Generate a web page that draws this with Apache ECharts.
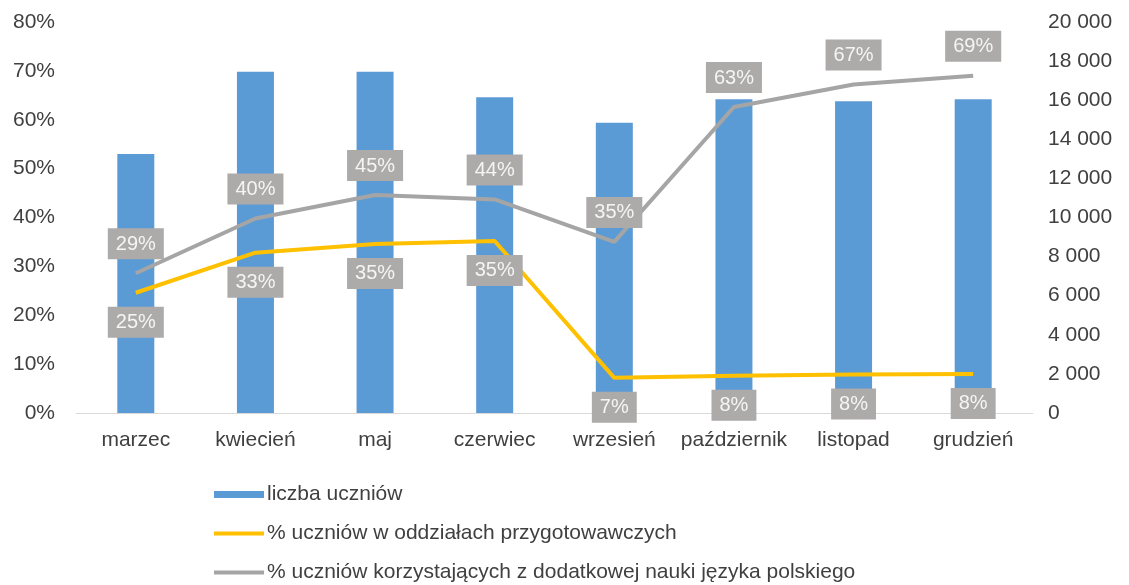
<!DOCTYPE html>
<html>
<head>
<meta charset="utf-8">
<script src="https://cdn.jsdelivr.net/npm/echarts@6/dist/echarts.min.js"></script>
<style>
    html, body { margin: 0; padding: 0; background: #fff; }
    #chart { width: 1129px; height: 585px; }
</style>
</head>
<body>
<div id="chart"></div>
<script>
// Data
var months = ['marzec', 'kwiecień', 'maj', 'czerwiec', 'wrzesień', 'październik', 'listopad', 'grudzień'];
var studentCount = [13250, 17450, 17450, 16150, 14850, 16050, 15950, 16050];
var prepClassPct = [24.6, 32.8, 34.6, 35.2, 7.2, 7.6, 7.9, 8.0];
var extraPolishPct = [28.6, 39.8, 44.6, 43.7, 35.0, 62.6, 67.2, 69.0];
var seriesNames = [
    'liczba uczniów',
    '% uczniów w oddziałach przygotowawczych',
    '% uczniów korzystających z dodatkowej nauki języka polskiego'
];

var chart = echarts.init(document.getElementById('chart'));

// grey boxed percentage labels
var pctLabel = function(pos) {
    return {
        show: true,
        position: pos,
        distance: 14,
        backgroundColor: '#adaaaa',
        color: '#f5f5f5',
        fontSize: 20,
        fontFamily: 'Liberation Sans, Arial, sans-serif',
        padding: [6, 8, 5, 8],
        formatter: function(p) { return Math.round(p.value) + '%'; }
    };
};

var lineIcon = 'path://M0,0L50,0L50,4L0,4Z';

var options = {
    animation: false,
    textStyle: {
        fontFamily: 'Liberation Sans, Arial, sans-serif'
    },
    grid: {
        left: 76,
        right: 96,
        top: 22,
        bottom: 172
    },
    legend: {
        orient: 'vertical',
        left: 209,
        top: 479,
        height: 110,
        itemWidth: 50,
        itemHeight: 7,
        itemGap: 18,
        textStyle: {
            fontSize: 21,
            color: '#404040',
            padding: [0, 0, 0, -2]
        },
        data: [
            { name: seriesNames[0], icon: 'rect' },
            { name: seriesNames[1], icon: lineIcon },
            { name: seriesNames[2], icon: lineIcon }
        ]
    },
    xAxis: {
        type: 'category',
        data: months,
        axisTick: { show: false },
        axisLine: { lineStyle: { color: '#d9d9d9', width: 1 } },
        axisLabel: {
            interval: 0,
            fontSize: 21,
            color: '#404040',
            margin: 17
        }
    },
    yAxis: [
        {
            type: 'value',
            min: 0,
            max: 80,
            interval: 10,
            position: 'left',
            splitLine: { show: false },
            axisLine: { show: false },
            axisTick: { show: false },
            axisLabel: {
                fontSize: 21,
                color: '#404040',
                margin: 21,
                formatter: '{value}%'
            }
        },
        {
            type: 'value',
            min: 0,
            max: 20000,
            interval: 2000,
            position: 'right',
            splitLine: { show: false },
            axisLine: { show: false },
            axisTick: { show: false },
            axisLabel: {
                fontSize: 21,
                color: '#404040',
                margin: 15,
                formatter: function(v) {
                    return String(v).replace(/\B(?=(\d{3})+(?!\d))/g, ' ');
                }
            }
        }
    ],
    series: [
        {
            name: seriesNames[0],
            type: 'bar',
            yAxisIndex: 1,
            barWidth: 37,
            itemStyle: { color: '#5b9bd5' },
            data: studentCount
        },
        {
            name: seriesNames[1],
            type: 'line',
            yAxisIndex: 0,
            symbol: 'circle',
            symbolSize: 0,
            showSymbol: true,
            lineStyle: { color: '#ffc000', width: 4 },
            itemStyle: { color: '#ffc000' },
            label: pctLabel('bottom'),
            z: 3,
            data: prepClassPct
        },
        {
            name: seriesNames[2],
            type: 'line',
            yAxisIndex: 0,
            symbol: 'circle',
            symbolSize: 0,
            showSymbol: true,
            lineStyle: { color: '#a5a5a5', width: 4 },
            itemStyle: { color: '#a5a5a5' },
            label: pctLabel('top'),
            z: 4,
            data: extraPolishPct
        }
    ]
};

chart.setOption(options);
</script>
</body>
</html>
